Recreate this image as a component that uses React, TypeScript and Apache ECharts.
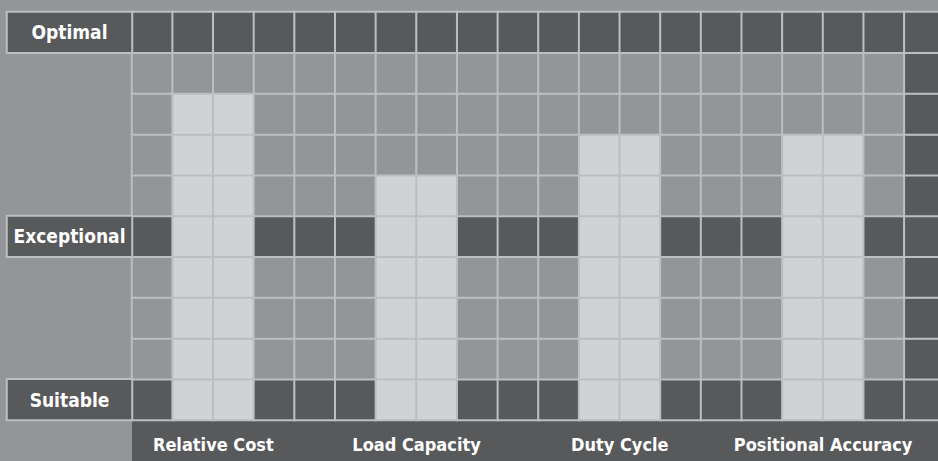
import React, { useEffect, useRef } from "react";
import * as echarts from "echarts";

// ---- data ----
const categories = ["Relative Cost", "Load Capacity", "Duty Cycle", "Positional Accuracy"];
const barValues = [8, 6, 7, 7]; // filled cells counted from the bottom
const barStartColumns = [1, 6, 11, 16];
const barSpan = 2;
const levelLabels = ["Suitable", "Exceptional", "Optimal"];
const levelRows = [0, 4, 9];
const darkColumns = [19];
const totalColumns = 20;
const totalRows = 10;

const GRAY = "#939598";
const DARK = "#58595b";
const LIGHT = "#d1d2d4";
const LINE = "#bcbec0";
const FONT = "'Liberation Sans Narrow', 'DejaVu Sans Condensed', sans-serif";

function buildCells() {
  const cells: number[][] = [];
  for (let x = 0; x < totalColumns; x++) {
    for (let y = 0; y < totalRows; y++) {
      let kind = 0;
      if (levelRows.includes(y) || darkColumns.includes(x)) kind = 1;
      barStartColumns.forEach((s, i) => {
        if (x >= s && x < s + barSpan && y < barValues[i]) kind = 2;
      });
      cells.push([x, y, kind]);
    }
  }
  return cells;
}

export default function App() {
  const ref = useRef<HTMLDivElement>(null);
  useEffect(() => {
    if (!ref.current) return;
    const chart = echarts.init(ref.current, null, { renderer: "svg" });
    const cols = Array.from({ length: totalColumns }, (_, i) => String(i));
    const rows = Array.from({ length: totalRows }, (_, i) => String(i));
    chart.setOption({
      animation: false,
      backgroundColor: GRAY,
      grid: [
        { left: 132, right: 0, top: 12, bottom: 41 },
        { left: 7, width: 125, top: 12, bottom: 41 },
      ],
      xAxis: [
        {
          type: "category", gridIndex: 0, data: cols, position: "top",
          axisLine: { show: false }, axisTick: { show: false }, axisLabel: { show: false }, splitLine: { show: false },
        },
        {
          type: "value", gridIndex: 0, min: 0, max: totalColumns, interval: 1, position: "bottom", z: 10,
          axisLine: { show: false }, axisTick: { show: false }, splitLine: { show: false },
          axisLabel: {
            margin: 15,
            color: "#ffffff",
            fontFamily: FONT,
            fontWeight: "bold",
            fontSize: 18,
            formatter: (v: number) => {
              const i = barStartColumns.findIndex((s) => s + barSpan / 2 === v);
              return i >= 0 ? categories[i] : "";
            },
          },
        },
        {
          type: "category", gridIndex: 1, data: ["label"],
          axisLine: { show: false }, axisTick: { show: false }, axisLabel: { show: false }, splitLine: { show: false },
        },
      ],
      yAxis: [
        {
          type: "category", gridIndex: 0, data: rows,
          axisLine: { show: false }, axisTick: { show: false }, axisLabel: { show: false }, splitLine: { show: false },
        },
        {
          type: "category", gridIndex: 1, data: rows,
          axisLine: { show: false }, axisTick: { show: false }, axisLabel: { show: false }, splitLine: { show: false },
        },
      ],
      visualMap: [
        {
          type: "piecewise",
          show: false,
          seriesIndex: 0,
          dimension: 2,
          pieces: [
            { value: 0, color: GRAY },
            { value: 1, color: DARK },
            { value: 2, color: LIGHT },
          ],
        },
        {
          type: "piecewise",
          show: false,
          seriesIndex: 1,
          dimension: 2,
          pieces: [{ min: 0, max: 10, color: DARK }],
        },
      ],
      graphic: [
        {
          type: "rect", z: 0, silent: true,
          shape: { x: 132, y: 420, width: 820, height: 41 },
          style: { fill: DARK },
        },
      ],
      series: [
        {
          type: "heatmap",
          xAxisIndex: 0,
          yAxisIndex: 0,
          data: buildCells(),
          itemStyle: { borderColor: LINE, borderWidth: 2 },
          emphasis: { disabled: true },
        },
        {
          type: "heatmap",
          xAxisIndex: 2,
          yAxisIndex: 1,
          data: levelRows.map((r, i) => [0, r, i]),
          itemStyle: { borderColor: LINE, borderWidth: 2 },
          emphasis: { disabled: true },
          label: {
            show: true,
            color: "#ffffff",
            fontFamily: FONT,
            fontWeight: "bold",
            fontSize: 19,
            formatter: (p: any) => levelLabels[p.data[2]],
          },
        },
      ],
    });
    return () => chart.dispose();
  }, []);
  return (
    <div style={{ position: "fixed", left: 0, top: 0, width: 938, height: 461, overflow: "hidden", background: GRAY }}>
      <div ref={ref} style={{ width: 948, height: 461 }} />
    </div>
  );
}
